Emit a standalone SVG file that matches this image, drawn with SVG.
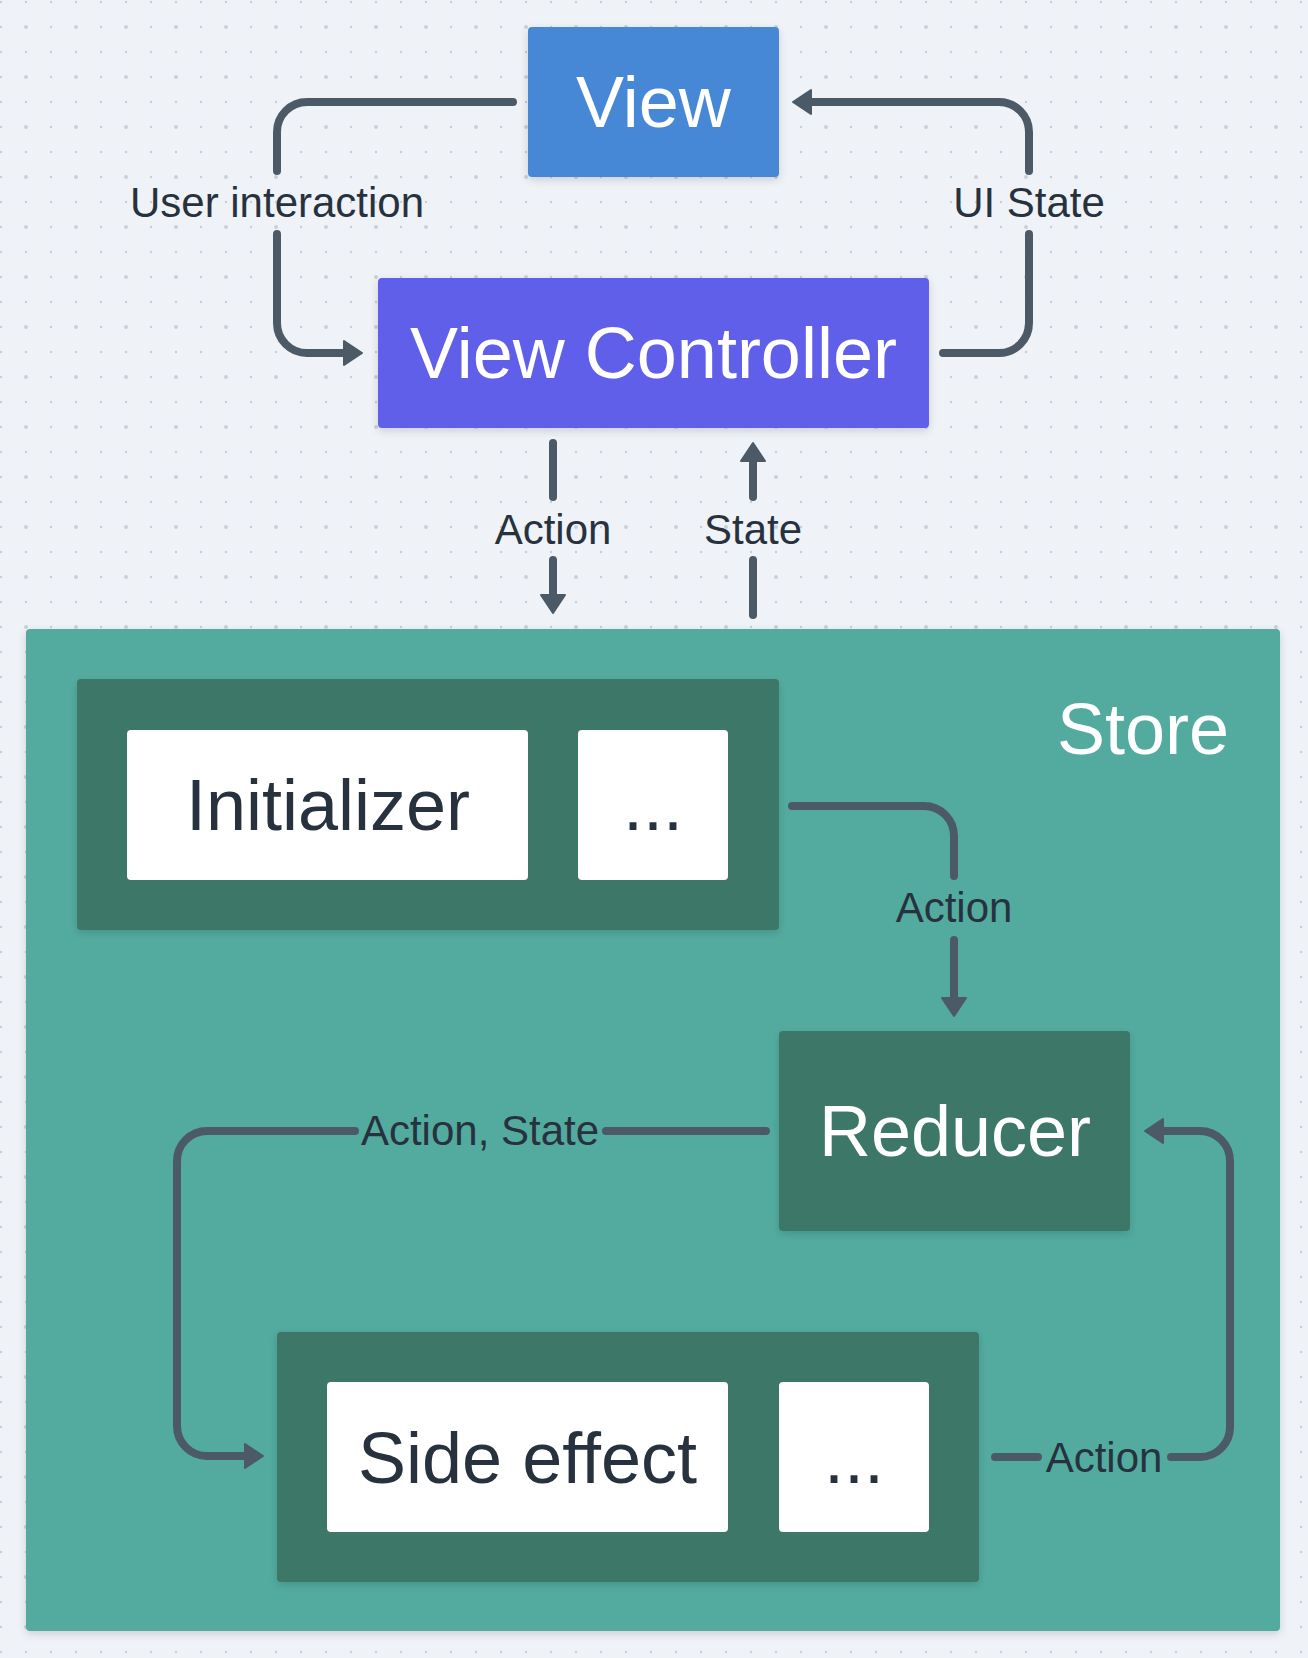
<svg xmlns="http://www.w3.org/2000/svg" width="1308" height="1658" viewBox="0 0 1308 1658">
<defs>
<style>
.bg{fill:#eff3f7}
.conn{fill:none;stroke:#4c5a68;stroke-width:8;stroke-linecap:round;stroke-linejoin:round}
.lbl{font-family:"Liberation Sans",Arial,sans-serif;font-size:42px;fill:#27323e;text-anchor:middle}
.big{font-family:"Liberation Sans",Arial,sans-serif;font-size:72px;text-anchor:middle}
.w{fill:#ffffff}
.d{fill:#27323e}
.dark{fill:#3d7768}
.card{fill:#ffffff}
</style>
<pattern id="grid" patternUnits="userSpaceOnUse" x="0" y="0" width="50" height="50">
<circle cx="1" cy="2" r="1.2" fill="#c6cdd8"/>
<circle cx="26" cy="2" r="1.2" fill="#c6cdd8"/>
<circle cx="1" cy="27" r="1.2" fill="#c6cdd8"/>
<circle cx="26" cy="27" r="2" fill="#c9d0db"/>
</pattern>
<filter id="sh" x="-10%" y="-10%" width="120%" height="130%">
<feDropShadow dx="0" dy="3" stdDeviation="4" flood-color="#000" flood-opacity="0.15"/>
</filter>
<marker id="ah" markerUnits="userSpaceOnUse" markerWidth="30" markerHeight="30" viewBox="-2 -15 24 30" refX="0" refY="0" orient="auto">
<path d="M0,-12 L18,0 L0,12 Z" fill="#4c5a68" stroke="#4c5a68" stroke-width="2" stroke-linejoin="round"/>
</marker>
</defs>
<rect class="bg" x="0" y="0" width="1308" height="1658"/>
<rect x="0" y="0" width="1308" height="1658" fill="url(#grid)"/>

<g id="store">
<rect x="26" y="629" width="1254" height="1002" rx="4" fill="#52ab9f" filter="url(#sh)"/>
<text class="big w" x="1229" y="754" style="text-anchor:end">Store</text>
</g>

<g id="view">
<rect x="528" y="27" width="251" height="150" rx="4" fill="#4788d6" filter="url(#sh)"/>
<text class="big w" x="653.5" y="127">View</text>
</g>

<g id="view-controller">
<rect x="378" y="278" width="551" height="150" rx="4" fill="#615ee9" filter="url(#sh)"/>
<text class="big w" x="653.5" y="378">View Controller</text>
</g>

<g id="initializer-group">
<rect class="dark" x="77" y="679" width="702" height="251" rx="4" filter="url(#sh)"/>
<g id="initializer">
<rect class="card" x="127" y="730" width="401" height="150" rx="4"/>
<text class="big d" x="328" y="830">Initializer</text>
</g>
<g id="initializer-more">
<rect class="card" x="578" y="730" width="150" height="150" rx="4"/>
<text class="big d" x="653" y="830">...</text>
</g>
</g>

<g id="reducer">
<rect class="dark" x="779" y="1031" width="351" height="200" rx="4" filter="url(#sh)"/>
<text class="big w" x="955" y="1156">Reducer</text>
</g>

<g id="side-effect-group">
<rect class="dark" x="277" y="1332" width="702" height="250" rx="4" filter="url(#sh)"/>
<g id="side-effect">
<rect class="card" x="327" y="1382" width="401" height="150" rx="4"/>
<text class="big d" x="527.5" y="1483">Side effect</text>
</g>
<g id="side-effect-more">
<rect class="card" x="779" y="1382" width="150" height="150" rx="4"/>
<text class="big d" x="854" y="1483">...</text>
</g>
</g>

<g id="connectors">
<path class="conn" d="M513,102 H307 A30,30 0 0 0 277,132 V171"/>
<path class="conn" d="M277,234 V323 A30,30 0 0 0 307,353 H344" marker-end="url(#ah)"/>
<text class="lbl" x="277" y="217">User interaction</text>

<path class="conn" d="M943,353 H999 A30,30 0 0 0 1029,323 V234"/>
<path class="conn" d="M1029,171 V132 A30,30 0 0 0 999,102 H811" marker-end="url(#ah)"/>
<text class="lbl" x="1029" y="217">UI State</text>

<path class="conn" d="M553,443 V497"/>
<path class="conn" d="M553,560 V595" marker-end="url(#ah)"/>
<text class="lbl" x="553" y="544">Action</text>

<path class="conn" d="M753,615 V560"/>
<path class="conn" d="M753,497 V461" marker-end="url(#ah)"/>
<text class="lbl" x="753" y="544">State</text>

<path class="conn" d="M792,806 H924 A30,30 0 0 1 954,836 V876"/>
<path class="conn" d="M954,940 V998" marker-end="url(#ah)"/>
<text class="lbl" x="954" y="922">Action</text>

<path class="conn" d="M766,1131 H606"/>
<path class="conn" d="M355,1131 H207 A30,30 0 0 0 177,1161 V1426 A30,30 0 0 0 207,1456 H245" marker-end="url(#ah)"/>
<text class="lbl" x="480" y="1145">Action, State</text>

<path class="conn" d="M995,1457 H1038"/>
<path class="conn" d="M1171,1457 H1200 A30,30 0 0 0 1230,1427 V1161 A30,30 0 0 0 1200,1131 H1163" marker-end="url(#ah)"/>
<text class="lbl" x="1104" y="1472">Action</text>
</g>
</svg>
